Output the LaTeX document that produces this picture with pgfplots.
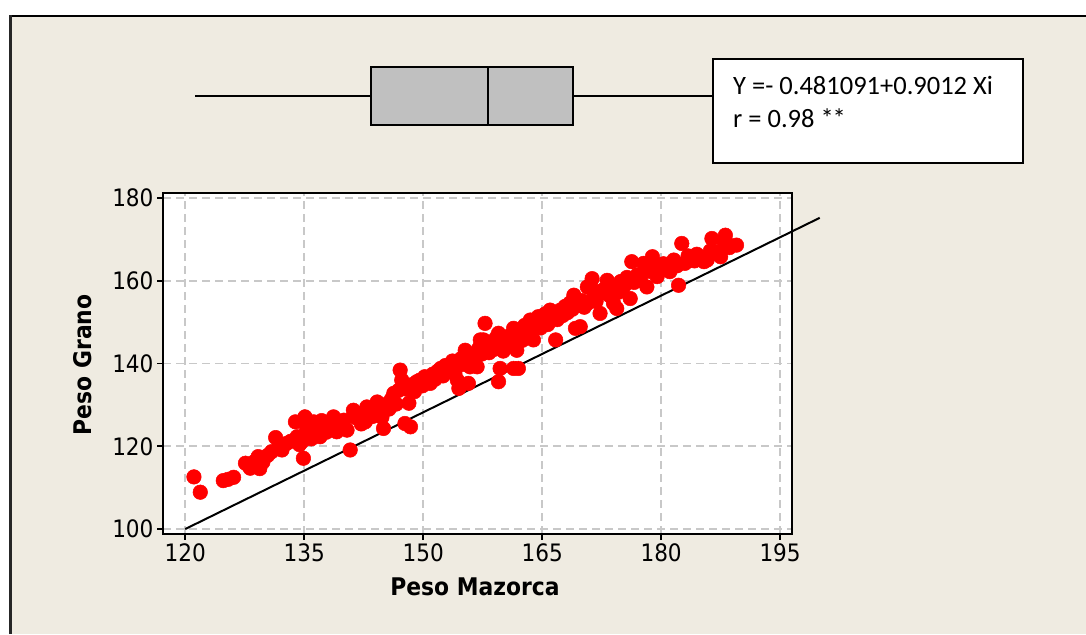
\documentclass[border=0pt]{standalone}
\usepackage{fontspec}
\setmainfont{DejaVu Sans Condensed}
\newfontfamily\cali{Carlito}
\usepackage{pgfplots}
\pgfplotsset{compat=1.18}
\usepgfplotslibrary{statistics}
\definecolor{bgc}{RGB}{239,235,225}
\definecolor{gridc}{RGB}{200,200,200}
\definecolor{boxc}{RGB}{192,192,192}
\begin{document}
\begin{tikzpicture}[x=1pt,y=1pt]
\path[use as bounding box] (0,0) rectangle (1086,634);
\fill[white] (0,0) rectangle (1086,634);
\fill[bgc] (10,0) rectangle (1086,618);
\draw[black, line width=1.8pt] (9,618) -- (1086,618);
\draw[black!85, line width=3.5pt] (10.5,0) -- (10.5,618.9);

\begin{axis}[
 at={(163pt,100pt)}, anchor=south west, scale only axis,
 width=629pt, height=341pt,
 xmin=117.2, xmax=196.5, ymin=98.8, ymax=181.2,
 xtick={120,135,150,165,180,195}, ytick={100,120,140,160,180},
 tick align=outside, tick pos=left,
 major tick length=6pt,
 every tick/.style={black, line width=1.6pt},
 axis line style={black, line width=2.2pt},
 axis background/.style={fill=white},
 grid=major, grid style={gridc, line width=1.7pt, dash pattern=on 8pt off 5pt},
 tick label style={font=\fontsize{24}{24}\selectfont},
 /pgf/number format/assume math mode=true,
 xlabel={Peso Mazorca}, ylabel={Peso Grano},
 label style={font=\fontsize{24.3}{24.3}\selectfont\bfseries},
 xlabel style={at={(axis description cs:0.496,-0.1818)}, anchor=base},
 ylabel style={at={(axis description cs:-0.1129,0.496)}, anchor=base},
 clip=false,
]
\addplot[only marks, mark=*, mark size=7.3pt, color=red, mark options={draw=red, fill=red, line width=0.5pt}] coordinates {
(121.1,112.6)(121.9,108.9)(124.8,111.7)(125.4,112.0)(126.1,112.5)(127.6,115.9)(128.0,115.3)(128.2,114.7)(128.8,116.4)(129.2,117.5)(129.4,114.6)(129.8,116.2)
(130.4,117.8)(130.9,118.7)(131.4,122.1)(131.8,119.6)(132.2,119.1)(132.8,120.7)(133.3,121.2)(133.9,125.9)(134.1,122.3)(134.4,120.4)(134.7,121.1)(134.9,117.1)(135.1,127.1)(135.3,124.0)
(135.6,123.1)(135.9,121.8)(136.2,125.9)(136.5,124.2)(137.0,122.3)(137.2,126.2)(137.4,124.7)(137.8,123.4)(138.2,125.3)(138.7,127.1)(139.1,123.5)(139.4,125.6)(139.8,124.6)(140.0,126.3)
(140.4,123.9)(140.8,119.1)(141.2,128.7)(141.5,126.9)(141.9,127.8)(142.2,125.4)(142.5,126.3)(142.7,125.9)(142.9,129.5)(143.3,128.1)(143.6,127.2)(143.9,129.6)(144.2,130.7)(144.5,128.4)(144.8,127.0)(145.0,124.3)(145.3,130.1)
(145.7,129.0)(146.0,131.4)(146.3,132.8)(146.6,130.2)(146.9,133.5)(147.1,138.4)(147.3,136.0)(147.5,135.2)(147.7,125.5)(147.9,133.8)(148.2,130.4)(148.4,124.7)(148.6,134.9)(148.9,133.2)(149.2,135.6)(149.6,136.0)(149.9,134.6)
(150.2,136.8)(150.5,135.3)(150.9,135.2)(151.2,137.4)(151.5,136.2)(151.8,138.1)(152.2,138.8)(152.5,137.0)(152.8,139.5)(153.1,138.0)(153.4,139.2)(153.7,140.6)(154.0,137.6)(154.3,136.0)(154.5,134.0)(154.8,141.2)(155.0,139.8)(155.3,143.2)(155.3,140.4)
(155.7,135.2)(155.9,139.2)(156.2,142.0)(156.5,140.8)(156.8,139.2)(157.0,143.6)(157.2,145.7)(157.4,142.3)(157.6,145.7)(157.8,149.7)(158.0,144.1)(158.3,142.6)(158.6,145.0)(158.9,143.4)(159.2,146.2)(159.5,147.3)(159.5,135.6)(159.7,138.8)(159.8,144.6)
(160.1,143.0)(160.5,144.9)(160.8,146.6)(161.1,145.2)(161.4,148.5)(161.4,138.8)(161.8,143.2)(162.0,138.8)(162.2,147.0)(162.5,145.6)(162.8,149.2)(163.1,147.4)(163.5,150.5)(163.7,148.1)(163.9,145.7)(164.2,149.6)(164.5,151.3)(164.8,148.6)
(165.1,150.2)(165.4,152.0)(165.7,149.4)(166.0,152.9)(166.3,151.1)(166.7,145.7)(166.9,150.6)(167.3,152.9)(167.6,151.6)(167.9,153.8)(168.2,152.3)(168.5,154.6)(168.8,153.1)(169.0,156.5)(169.2,148.5)(169.5,154.0)(169.8,148.9)(170.0,155.2)
(170.3,153.6)(170.7,158.5)(170.7,154.5)(171.1,158.9)(171.3,160.5)(171.5,156.2)(171.8,155.0)(172.3,156.9)(172.3,152.1)(172.7,157.8)(173.2,160.1)(173.5,156.4)(173.8,158.0)(174.0,154.5)(174.4,153.3)(174.6,157.2)(174.9,159.8)
(175.3,158.6)(175.7,160.8)(176.1,155.7)(176.3,164.6)(176.6,159.6)(177.0,161.4)(177.4,160.2)(177.8,164.2)(178.2,158.5)(178.5,162.3)(178.9,165.8)(179.2,163.0)(179.5,161.0)(179.9,162.6)
(180.3,164.1)(180.7,163.4)(181.1,162.2)(181.6,165.0)(182.0,163.6)(182.2,158.9)(182.6,169.0)(183.0,164.2)(183.4,166.0)(183.7,165.0)(184.2,164.8)(184.5,166.4)(184.9,165.8)(185.4,164.6)(185.8,165.0)(186.2,167.2)(186.4,170.2)(186.9,167.0)(187.5,165.8)(187.9,169.6)(188.1,171.0)(188.3,169.0)(188.6,168.0)(189.5,168.6)
};
\addplot[black, line width=2pt] coordinates {(120,100) (200,175.2)};
\end{axis}

% top marginal boxplot (Peso Mazorca)
\begin{axis}[
 at={(163pt,508.7pt)}, anchor=south west, scale only axis,
 width=629pt, height=58.6pt,
 xmin=117.2, xmax=196.5, ymin=0, ymax=1,
 hide axis, clip=false,
]
\addplot[boxplot prepared={lower whisker=121.26, lower quartile=143.4, median=158.2, upper quartile=168.9, upper whisker=189.5, draw position=0.5, box extend=1, whisker extend=0, draw direction=x}, draw=black, fill=boxc, line width=2pt] coordinates {};
\end{axis}

% right marginal boxplot (Peso Grano)
\begin{axis}[
 at={(882pt,100pt)}, anchor=south west, scale only axis,
 width=80pt, height=341pt,
 xmin=0, xmax=1, ymin=98.8, ymax=181.2,
 hide axis, clip=false,
]
\addplot[boxplot prepared={lower whisker=108.6, lower quartile=127.4, median=142.0, upper quartile=152.4, upper whisker=170.6, draw position=0.5, box extend=1, whisker extend=0}, draw=black, fill=boxc, line width=2pt] coordinates {};
\end{axis}

\draw[fill=white, line width=1.8pt] (713,471) rectangle (1023,575);
\node[anchor=base west, inner sep=0pt, font=\cali\fontsize{26.5}{26.5}\selectfont] at (733,539) {Y =- 0.481091+0.9012 Xi};
\node[anchor=base west, inner sep=0pt, font=\cali\fontsize{26.5}{26.5}\selectfont] at (733,506.7) {r = 0.98 *\kern-0.05em*};
\end{tikzpicture}
\end{document}
